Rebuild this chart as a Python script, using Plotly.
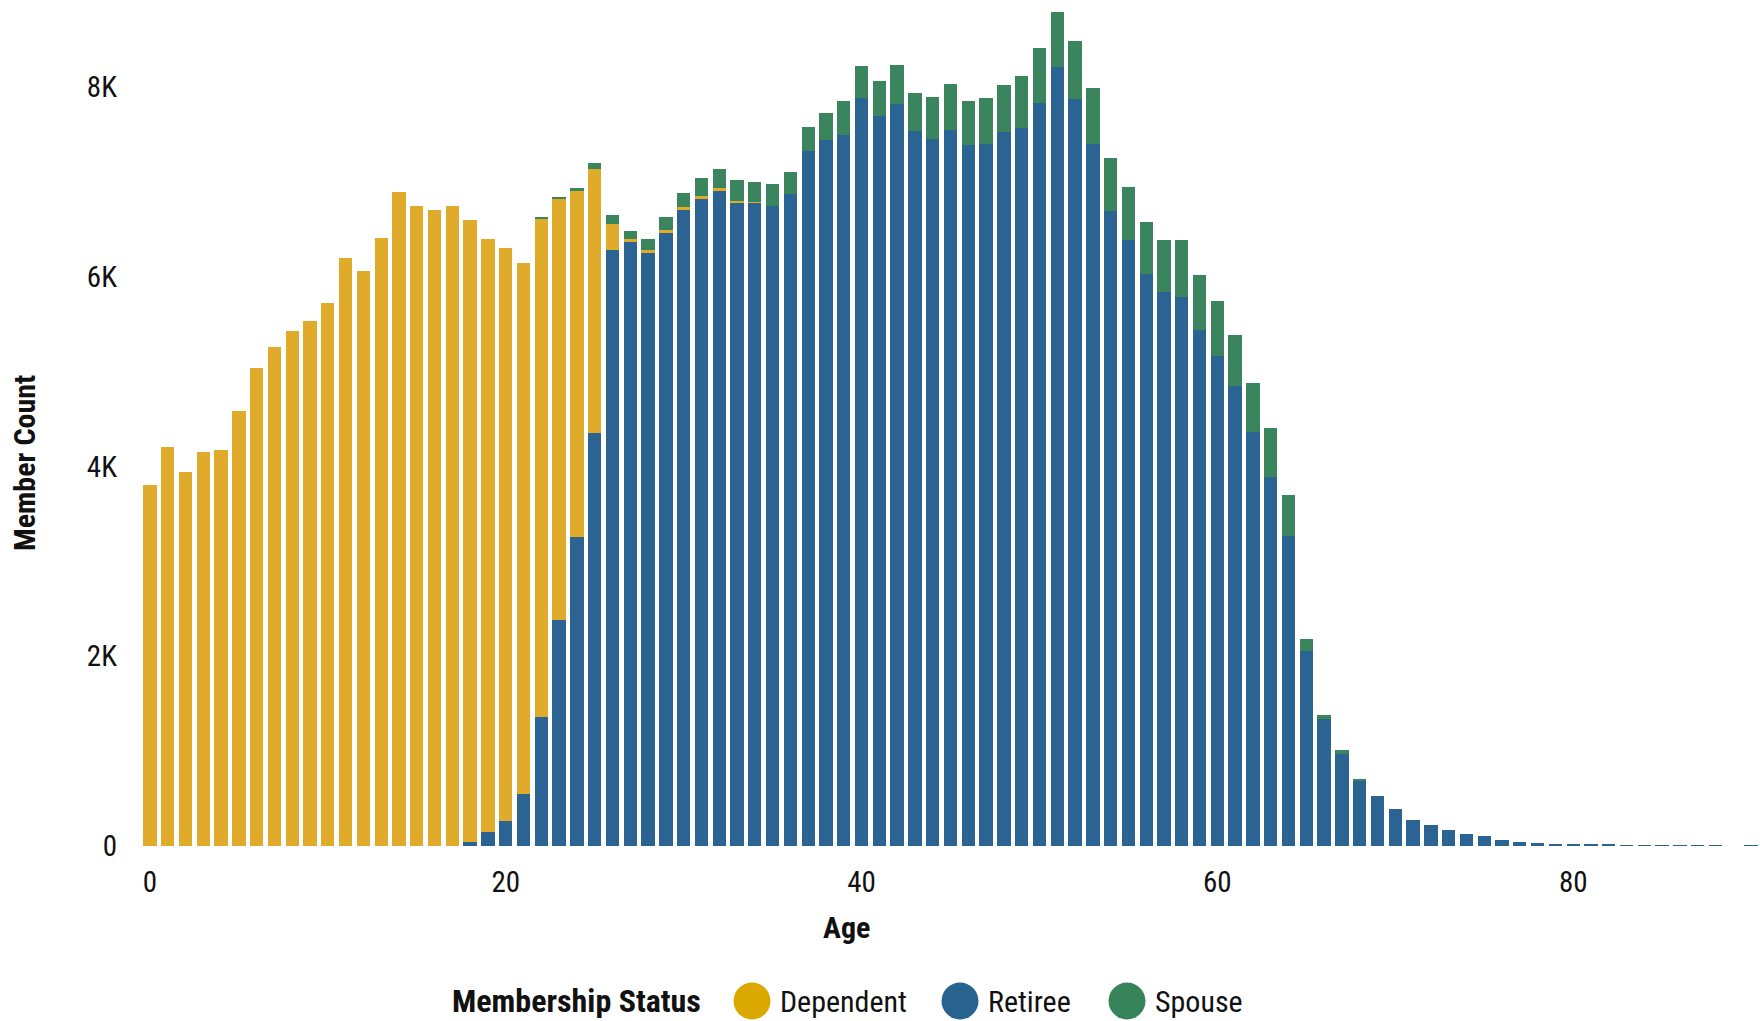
import plotly.graph_objects as go

# ---------------- data ----------------
ages = list(range(0, 91))

retiree = [0] * 18 + [
    45, 150, 260, 550, 1360, 2380, 3260, 4350,            # 18-25
    6280, 6370, 6260, 6460, 6700, 6820, 6900, 6780, 6780, 6740,  # 26-35
    6870, 7320, 7440, 7490, 7880, 7690, 7820, 7540, 7450, 7550,  # 36-45
    7390, 7400, 7530, 7570, 7830, 8210, 7870, 7400, 6690, 6390,  # 46-55
    6030, 5840, 5790, 5440, 5160, 4850, 4360, 3890, 3270, 2060,  # 56-65
    1340, 970, 690, 530, 390, 270, 220, 170, 130, 110,           # 66-75
    60, 40, 35, 25, 20, 15, 12, 8, 7, 6,                         # 76-85
    3, 4, 3, 0, 2,                                               # 86-90
]

dependent = [
    3800, 4200, 3940, 4150, 4170, 4580, 5040, 5260, 5430, 5530,  # 0-9
    5720, 6200, 6060, 6410, 6890, 6750, 6700, 6740, 6550, 6250,  # 10-19
    6040, 5590, 5250, 4440, 3640, 2790,                          # 20-25
    270, 30, 20, 30, 30, 30, 30, 20, 10,                         # 26-34
] + [0] * 56

spouse = [0] * 22 + [
    10, 20, 30, 60,                                              # 22-25
    100, 80, 120, 140, 150, 190, 210, 220, 210, 240,             # 26-35
    230, 260, 290, 360, 340, 370, 410, 400, 440, 480,            # 36-45
    460, 480, 490, 540, 580, 580, 610, 590, 560, 550,            # 46-55
    550, 550, 600, 580, 580, 540, 520, 520, 430, 120,            # 56-65
    40, 40, 10,                                                  # 66-68
] + [0] * 22

stack_order = ["Retiree", "Dependent", "Spouse"]
legend_order = ["Dependent", "Retiree", "Spouse"]
series = {"Retiree": retiree, "Dependent": dependent, "Spouse": spouse}
bar_colors = {"Dependent": "#E0AB2B", "Retiree": "#2B6392", "Spouse": "#3A855D"}
legend_colors = {"Dependent": "#DBA800", "Retiree": "#28628F", "Spouse": "#37845B"}

y_tick_vals = [0, 2000, 4000, 6000, 8000]
y_tick_text = ["0", "2K", "4K", "6K", "8K"]
x_tick_vals = [0, 20, 40, 60, 80]

# ---------------- layout geometry ----------------
W, H = 1760, 1021
ML, MR, MT, MB = 141, 0, 11, 175
PW, PH = W - ML - MR, H - MT - MB

def px_x(px):
    return (px - ML) / PW

def px_y(py):
    return (H - MB - py) / PH

FONT = "Liberation Sans Narrow, Arial Narrow, Roboto Condensed, Liberation Sans, sans-serif"

fig = go.Figure()
for name in stack_order:
    fig.add_trace(go.Bar(
        x=ages, y=series[name], name=name,
        marker=dict(color=bar_colors[name], line=dict(width=0)),
        showlegend=False,
    ))

fig.update_layout(
    width=W, height=H, autosize=False,
    margin=dict(l=ML, r=MR, t=MT, b=MB, pad=0),
    barmode="stack", bargap=0.25,
    plot_bgcolor="white", paper_bgcolor="white",
    font=dict(family=FONT, size=29, color="#111111"),
    xaxis=dict(range=[-0.5, 90.5], tickvals=x_tick_vals, showgrid=False,
               zeroline=False, showline=False, ticks="", ticklabelstandoff=16,
               tickfont=dict(size=29)),
    yaxis=dict(range=[0, 8800], tickvals=y_tick_vals, ticktext=y_tick_text,
               showgrid=False, zeroline=False, showline=False, ticks="",
               ticklabelstandoff=23, tickfont=dict(size=29)),
)

LEG_Y = 1001
annotations = [
    dict(text="<b>Member Count</b>", x=px_x(24), y=px_y(463), xref="paper", yref="paper",
         textangle=-90, showarrow=False, xanchor="center", yanchor="middle",
         font=dict(size=30)),
    dict(text="<b>Age</b>", x=px_x(846), y=px_y(928), xref="paper", yref="paper",
         showarrow=False, xanchor="center", yanchor="middle", font=dict(size=30)),
    dict(text="<b>Membership Status</b>", x=px_x(703), y=px_y(LEG_Y), xref="paper", yref="paper",
         showarrow=False, xanchor="right", yanchor="middle", font=dict(size=32)),
]
shapes = []
legend_centers = {"Dependent": 752, "Retiree": 960, "Spouse": 1127}
R = 18.5
for name in legend_order:
    cx = legend_centers[name]
    shapes.append(dict(type="circle", xref="paper", yref="paper",
                       x0=px_x(cx - R), x1=px_x(cx + R), y0=px_y(LEG_Y + R), y1=px_y(LEG_Y - R),
                       fillcolor=legend_colors[name], line=dict(width=0)))
    annotations.append(dict(text=name, x=px_x(cx + 26), y=px_y(LEG_Y), xref="paper", yref="paper",
                            showarrow=False, xanchor="left", yanchor="middle",
                            font=dict(size=30)))
fig.update_layout(annotations=annotations, shapes=shapes)

fig.write_html("out.html", config={"displayModeBar": False},
               post_script="document.body.style.margin='0';")
